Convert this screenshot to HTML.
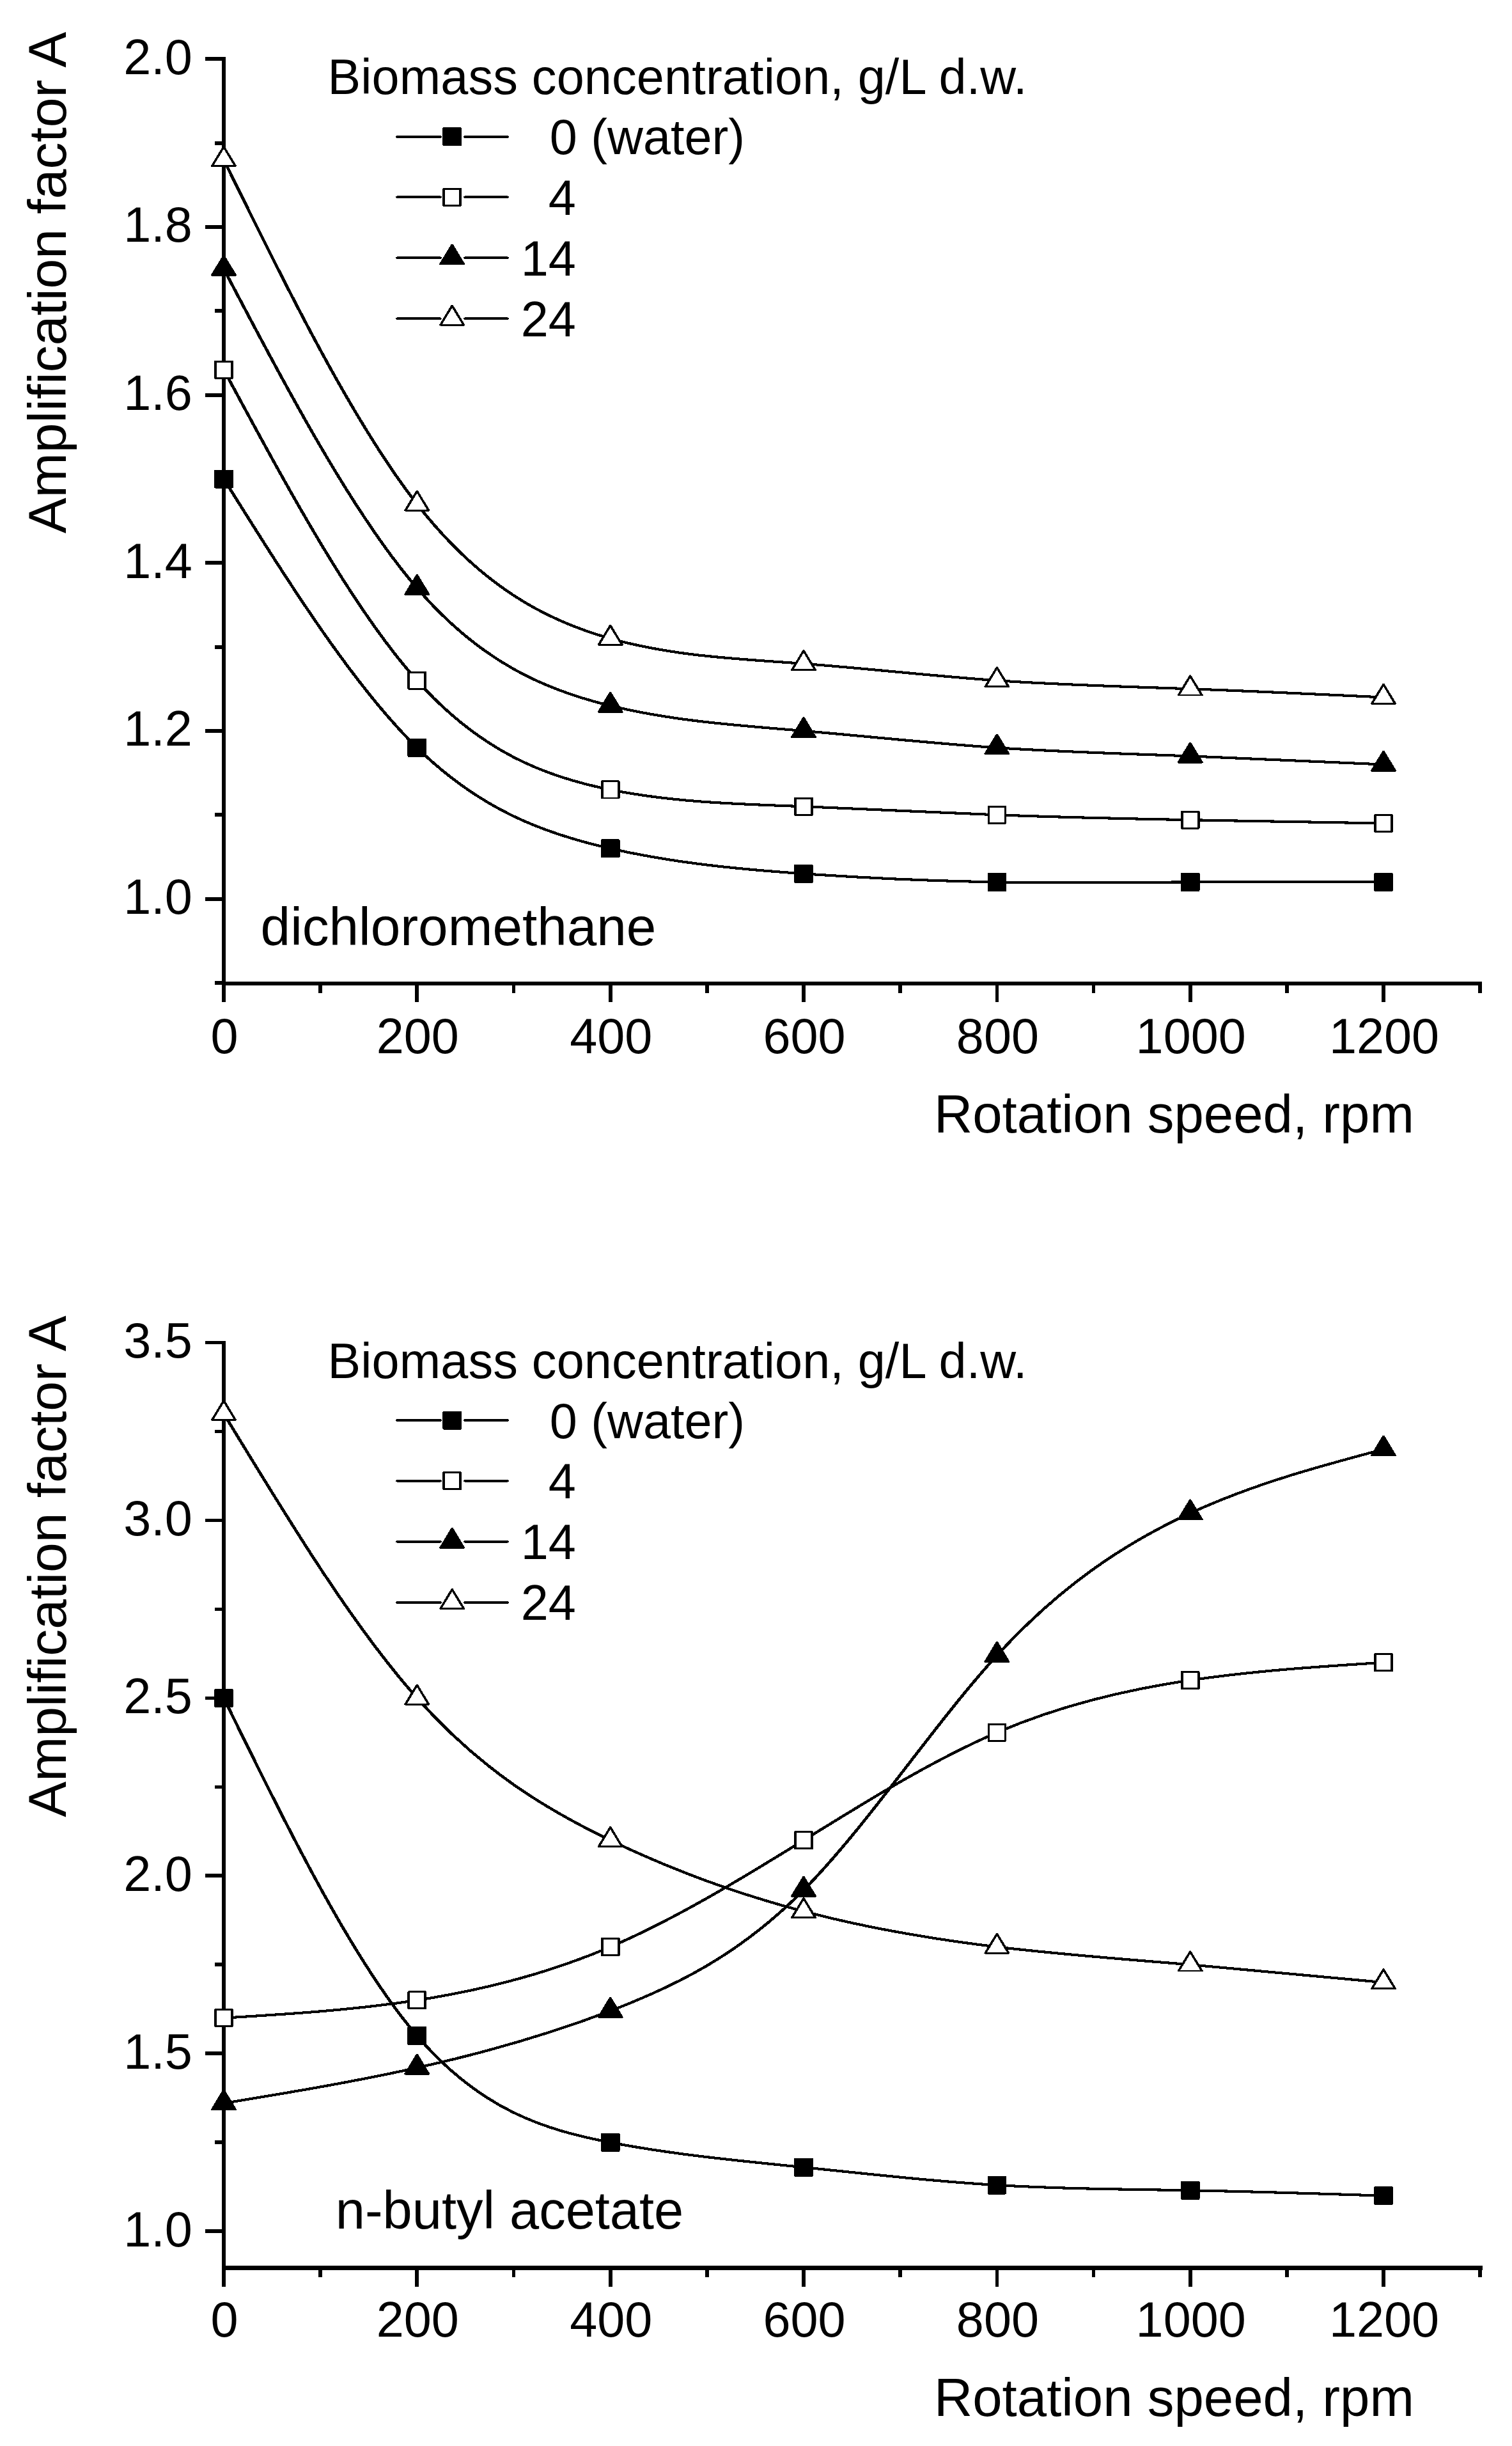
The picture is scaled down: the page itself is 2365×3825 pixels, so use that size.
<!DOCTYPE html>
<html lang="en"><head><meta charset="utf-8"><title>Amplification factor vs rotation speed</title>
<style>
html,body{margin:0;padding:0;background:#fff}
svg{display:block}
text{font-family:"Liberation Sans",Arial,Helvetica,sans-serif;fill:#000}
</style></head><body>
<svg width="2365" height="3825" viewBox="0 0 2365 3825" shape-rendering="crispEdges">
<rect width="2365" height="3825" fill="#fff"/>
<defs>
<path id="sq" d="M-10.15 -13.05H10.15V13.05H-10.15Z" fill="#000" stroke="#000" stroke-width="2.9" stroke-linejoin="round" transform="scale(1.276 1)"/>
<path id="osq" d="M-10.15 -13.05H10.15V13.05H-10.15Z" fill="#fff" stroke="#000" stroke-width="2.9" stroke-linejoin="round" transform="scale(1.276 1)"/>
<path id="tr" d="M0 -20.30L14.26 9.70H-14.26Z" fill="#000" stroke="#000" stroke-width="2.9" stroke-linejoin="round" transform="scale(1.276 1)"/>
<path id="otr" d="M0 -20.30L14.26 9.70H-14.26Z" fill="#fff" stroke="#000" stroke-width="2.9" stroke-linejoin="round" transform="scale(1.276 1)"/>
</defs>
<path d="M350.0 92.2V1538.1" fill="none" stroke="#000" stroke-width="5.8" stroke-linecap="square"/>
<path d="M350.0 1538.1H2315.2" fill="none" stroke="#000" stroke-width="5.8" stroke-linecap="square"/>
<path d="M350.0 1405.7h-28.6M350.0 1143.0h-28.6M350.0 880.3h-28.6M350.0 617.6h-28.6M350.0 354.9h-28.6M350.0 92.2h-28.6M350.0 1537.1h-14.3M350.0 1274.3h-14.3M350.0 1011.6h-14.3M350.0 749.0h-14.3M350.0 486.3h-14.3M350.0 223.6h-14.3M350.0 1538.1v28.7M652.3 1538.1v28.7M954.7 1538.1v28.7M1257.0 1538.1v28.7M1559.4 1538.1v28.7M1861.7 1538.1v28.7M2164.0 1538.1v28.7M501.2 1538.1v14.7M803.5 1538.1v14.7M1105.8 1538.1v14.7M1408.2 1538.1v14.7M1710.5 1538.1v14.7M2012.9 1538.1v14.7M2315.2 1538.1v14.7" fill="none" stroke="#000" stroke-width="5.8"/>
<g font-size="77.4">
<text text-anchor="end" transform="translate(300.9 1429.1)" xml:space="preserve">1.0</text>
<text text-anchor="end" transform="translate(300.9 1166.4)" xml:space="preserve">1.2</text>
<text text-anchor="end" transform="translate(300.9 903.7)" xml:space="preserve">1.4</text>
<text text-anchor="end" transform="translate(300.9 641.0)" xml:space="preserve">1.6</text>
<text text-anchor="end" transform="translate(300.9 378.3)" xml:space="preserve">1.8</text>
<text text-anchor="end" transform="translate(300.9 115.6)" xml:space="preserve">2.0</text>
<text text-anchor="middle" transform="translate(351.0 1647.0)" xml:space="preserve">0</text>
<text text-anchor="middle" transform="translate(653.3 1647.0)" xml:space="preserve">200</text>
<text text-anchor="middle" transform="translate(955.7 1647.0)" xml:space="preserve">400</text>
<text text-anchor="middle" transform="translate(1258.0 1647.0)" xml:space="preserve">600</text>
<text text-anchor="middle" transform="translate(1560.4 1647.0)" xml:space="preserve">800</text>
<text text-anchor="middle" transform="translate(1862.7 1647.0)" xml:space="preserve">1000</text>
<text text-anchor="middle" transform="translate(2165.0 1647.0)" xml:space="preserve">1200</text>
</g>
<text font-size="83.4" x="1461" y="1771.0">Rotation speed, rpm</text>
<text font-size="84.0" text-anchor="middle" transform="translate(103 442.0) rotate(-90)">Amplification factor A</text>
<text font-size="83.7" x="407.6" y="1478.2">dichloromethane</text>
<g fill="none" stroke="#000" stroke-width="4.1" transform="scale(1.20 1)">
<path d="M291.67 749.0C375.65 909.8 459.63 1070.7 543.62 1169.3C627.60 1267.8 711.58 1304.0 795.57 1326.9C879.55 1349.8 963.53 1359.3 1047.52 1366.3C1131.50 1373.3 1215.48 1377.8 1299.47 1379.4C1383.45 1381.1 1467.43 1379.9 1551.42 1379.4C1635.40 1379.0 1719.38 1379.2 1803.37 1379.4"/>
<path d="M291.67 578.2C375.65 765.0 459.63 951.7 543.62 1064.2C627.60 1176.6 711.58 1214.8 795.57 1234.9C879.55 1255.1 963.53 1257.4 1047.52 1261.2C1131.50 1265.1 1215.48 1270.5 1299.47 1274.3C1383.45 1278.2 1467.43 1280.3 1551.42 1282.2C1635.40 1284.1 1719.38 1285.8 1803.37 1287.5"/>
<path d="M291.67 420.6C375.65 611.7 459.63 802.8 543.62 919.7C627.60 1036.6 711.58 1079.1 795.57 1103.6C879.55 1128.1 963.53 1134.4 1047.52 1143.0C1131.50 1151.6 1215.48 1162.5 1299.47 1169.3C1383.45 1176.0 1467.43 1178.7 1551.42 1182.4C1635.40 1186.1 1719.38 1190.8 1803.37 1195.5"/>
<path d="M291.67 249.8C375.65 454.6 459.63 659.5 543.62 788.4C627.60 917.3 711.58 970.2 795.57 998.5C879.55 1026.8 963.53 1030.3 1047.52 1037.9C1131.50 1045.5 1215.48 1057.1 1299.47 1064.2C1383.45 1071.2 1467.43 1073.7 1551.42 1077.3C1635.40 1080.9 1719.38 1085.7 1803.37 1090.5"/>
</g>
<use href="#sq" x="0" y="0" transform="translate(350.0 749.0)"/>
<use href="#sq" x="0" y="0" transform="translate(652.3 1169.3)"/>
<use href="#sq" x="0" y="0" transform="translate(954.7 1326.9)"/>
<use href="#sq" x="0" y="0" transform="translate(1257.0 1366.3)"/>
<use href="#sq" x="0" y="0" transform="translate(1559.4 1379.4)"/>
<use href="#sq" x="0" y="0" transform="translate(1861.7 1379.4)"/>
<use href="#sq" x="0" y="0" transform="translate(2164.0 1379.4)"/>
<use href="#osq" x="0" y="0" transform="translate(350.0 578.2)"/>
<use href="#osq" x="0" y="0" transform="translate(652.3 1064.2)"/>
<use href="#osq" x="0" y="0" transform="translate(954.7 1234.9)"/>
<use href="#osq" x="0" y="0" transform="translate(1257.0 1261.2)"/>
<use href="#osq" x="0" y="0" transform="translate(1559.4 1274.3)"/>
<use href="#osq" x="0" y="0" transform="translate(1861.7 1282.2)"/>
<use href="#osq" x="0" y="0" transform="translate(2164.0 1287.5)"/>
<use href="#tr" x="0" y="0" transform="translate(350.0 420.6)"/>
<use href="#tr" x="0" y="0" transform="translate(652.3 919.7)"/>
<use href="#tr" x="0" y="0" transform="translate(954.7 1103.6)"/>
<use href="#tr" x="0" y="0" transform="translate(1257.0 1143.0)"/>
<use href="#tr" x="0" y="0" transform="translate(1559.4 1169.3)"/>
<use href="#tr" x="0" y="0" transform="translate(1861.7 1182.4)"/>
<use href="#tr" x="0" y="0" transform="translate(2164.0 1195.5)"/>
<use href="#otr" x="0" y="0" transform="translate(350.0 249.8)"/>
<use href="#otr" x="0" y="0" transform="translate(652.3 788.4)"/>
<use href="#otr" x="0" y="0" transform="translate(954.7 998.5)"/>
<use href="#otr" x="0" y="0" transform="translate(1257.0 1037.9)"/>
<use href="#otr" x="0" y="0" transform="translate(1559.4 1064.2)"/>
<use href="#otr" x="0" y="0" transform="translate(1861.7 1077.3)"/>
<use href="#otr" x="0" y="0" transform="translate(2164.0 1090.5)"/>
<g font-size="77.4">
<text x="512.4" y="147.3" textLength="1094.2" lengthAdjust="spacing">Biomass concentration, g/L d.w.</text>
<path d="M518.00 213.8H573.67M606.33 213.8H661.25" stroke="#000" stroke-width="4.1" stroke-linecap="round" transform="scale(1.20 1)"/>
<use href="#sq" x="0" y="0" transform="translate(707.2 213.8)"/>
<path d="M518.00 308.3H573.67M606.33 308.3H661.25" stroke="#000" stroke-width="4.1" stroke-linecap="round" transform="scale(1.20 1)"/>
<use href="#osq" x="0" y="0" transform="translate(707.2 308.3)"/>
<path d="M518.00 403.3H573.67M606.33 403.3H661.25" stroke="#000" stroke-width="4.1" stroke-linecap="round" transform="scale(1.20 1)"/>
<use href="#tr" x="0" y="0" transform="translate(707.2 403.3)"/>
<path d="M518.00 498.4H573.67M606.33 498.4H661.25" stroke="#000" stroke-width="4.1" stroke-linecap="round" transform="scale(1.20 1)"/>
<use href="#otr" x="0" y="0" transform="translate(707.2 498.4)"/>
<text transform="translate(859.8 241.2)" xml:space="preserve">0 (water)</text>
<text transform="translate(857.8 335.7)" xml:space="preserve">4</text>
<text transform="translate(814.8 430.7)" xml:space="preserve">14</text>
<text transform="translate(814.8 525.8)" xml:space="preserve">24</text>
</g>
<path d="M350.0 2099.5V3546.4" fill="none" stroke="#000" stroke-width="5.8" stroke-linecap="square"/>
<path d="M350.0 3546.4H2315.2" fill="none" stroke="#000" stroke-width="6.8" stroke-linecap="square"/>
<path d="M350.0 3489.2h-28.6M350.0 3211.3h-28.6M350.0 2933.3h-28.6M350.0 2655.4h-28.6M350.0 2377.4h-28.6M350.0 2099.5h-28.6M350.0 3350.3h-14.3M350.0 3072.3h-14.3M350.0 2794.4h-14.3M350.0 2516.4h-14.3M350.0 2238.5h-14.3M350.0 3546.4v29.2M652.3 3546.4v29.2M954.7 3546.4v29.2M1257.0 3546.4v29.2M1559.4 3546.4v29.2M1861.7 3546.4v29.2M2164.0 3546.4v29.2M501.2 3546.4v14.7M803.5 3546.4v14.7M1105.8 3546.4v14.7M1408.2 3546.4v14.7M1710.5 3546.4v14.7M2012.9 3546.4v14.7M2315.2 3546.4v14.7" fill="none" stroke="#000" stroke-width="5.8"/>
<g font-size="77.4">
<text text-anchor="end" transform="translate(300.9 3512.7)" xml:space="preserve">1.0</text>
<text text-anchor="end" transform="translate(300.9 3234.7)" xml:space="preserve">1.5</text>
<text text-anchor="end" transform="translate(300.9 2956.8)" xml:space="preserve">2.0</text>
<text text-anchor="end" transform="translate(300.9 2678.8)" xml:space="preserve">2.5</text>
<text text-anchor="end" transform="translate(300.9 2400.8)" xml:space="preserve">3.0</text>
<text text-anchor="end" transform="translate(300.9 2122.9)" xml:space="preserve">3.5</text>
<text text-anchor="middle" transform="translate(351.0 3654.4)" xml:space="preserve">0</text>
<text text-anchor="middle" transform="translate(653.3 3654.4)" xml:space="preserve">200</text>
<text text-anchor="middle" transform="translate(955.7 3654.4)" xml:space="preserve">400</text>
<text text-anchor="middle" transform="translate(1258.0 3654.4)" xml:space="preserve">600</text>
<text text-anchor="middle" transform="translate(1560.4 3654.4)" xml:space="preserve">800</text>
<text text-anchor="middle" transform="translate(1862.7 3654.4)" xml:space="preserve">1000</text>
<text text-anchor="middle" transform="translate(2165.0 3654.4)" xml:space="preserve">1200</text>
</g>
<text font-size="83.4" x="1461" y="3778.4">Rotation speed, rpm</text>
<text font-size="84.0" text-anchor="middle" transform="translate(103 2449.5) rotate(-90)">Amplification factor A</text>
<text font-size="83.0" x="524.8" y="3484.7">n-butyl acetate</text>
<g fill="none" stroke="#000" stroke-width="4.1" transform="scale(1.20 1)">
<path d="M291.67 2655.4C375.65 2860.7 459.63 3066.0 543.62 3183.5C627.60 3301.0 711.58 3330.8 795.57 3350.3C879.55 3369.7 963.53 3378.9 1047.52 3389.2C1131.50 3399.5 1215.48 3411.0 1299.47 3417.0C1383.45 3423.0 1467.43 3423.5 1551.42 3425.3C1635.40 3427.2 1719.38 3430.4 1803.37 3433.7"/>
<path d="M291.67 3155.7C375.65 3149.6 459.63 3143.4 543.62 3127.9C627.60 3112.4 711.58 3087.6 795.57 3044.5C879.55 3001.4 963.53 2940.0 1047.52 2877.8C1131.50 2815.5 1215.48 2752.6 1299.47 2709.3C1383.45 2666.1 1467.43 2642.6 1551.42 2627.6C1635.40 2612.6 1719.38 2606.2 1803.37 2599.8"/>
<path d="M291.67 3289.1C375.65 3272.5 459.63 3255.9 543.62 3233.5C627.60 3211.2 711.58 3183.0 795.57 3144.6C879.55 3106.1 963.53 3057.4 1047.52 2955.6C1131.50 2853.8 1215.48 2699.0 1299.47 2588.7C1383.45 2478.4 1467.43 2412.6 1551.42 2366.3C1635.40 2320.0 1719.38 2293.1 1803.37 2266.3"/>
<path d="M291.67 2210.7C375.65 2376.4 459.63 2542.2 543.62 2655.4C627.60 2768.6 711.58 2829.3 795.57 2877.8C879.55 2926.2 963.53 2962.4 1047.52 2988.9C1131.50 3015.5 1215.48 3032.4 1299.47 3044.5C1383.45 3056.6 1467.43 3063.9 1551.42 3072.3C1635.40 3080.8 1719.38 3090.5 1803.37 3100.1"/>
</g>
<use href="#sq" x="0" y="0" transform="translate(350.0 2655.4)"/>
<use href="#sq" x="0" y="0" transform="translate(652.3 3183.5)"/>
<use href="#sq" x="0" y="0" transform="translate(954.7 3350.3)"/>
<use href="#sq" x="0" y="0" transform="translate(1257.0 3389.2)"/>
<use href="#sq" x="0" y="0" transform="translate(1559.4 3417.0)"/>
<use href="#sq" x="0" y="0" transform="translate(1861.7 3425.3)"/>
<use href="#sq" x="0" y="0" transform="translate(2164.0 3433.7)"/>
<use href="#osq" x="0" y="0" transform="translate(350.0 3155.7)"/>
<use href="#osq" x="0" y="0" transform="translate(652.3 3127.9)"/>
<use href="#osq" x="0" y="0" transform="translate(954.7 3044.5)"/>
<use href="#osq" x="0" y="0" transform="translate(1257.0 2877.8)"/>
<use href="#osq" x="0" y="0" transform="translate(1559.4 2709.3)"/>
<use href="#osq" x="0" y="0" transform="translate(1861.7 2627.6)"/>
<use href="#osq" x="0" y="0" transform="translate(2164.0 2599.8)"/>
<use href="#tr" x="0" y="0" transform="translate(350.0 3289.1)"/>
<use href="#tr" x="0" y="0" transform="translate(652.3 3233.5)"/>
<use href="#tr" x="0" y="0" transform="translate(954.7 3144.6)"/>
<use href="#tr" x="0" y="0" transform="translate(1257.0 2955.6)"/>
<use href="#tr" x="0" y="0" transform="translate(1559.4 2588.7)"/>
<use href="#tr" x="0" y="0" transform="translate(1861.7 2366.3)"/>
<use href="#tr" x="0" y="0" transform="translate(2164.0 2266.3)"/>
<use href="#otr" x="0" y="0" transform="translate(350.0 2210.7)"/>
<use href="#otr" x="0" y="0" transform="translate(652.3 2655.4)"/>
<use href="#otr" x="0" y="0" transform="translate(954.7 2877.8)"/>
<use href="#otr" x="0" y="0" transform="translate(1257.0 2988.9)"/>
<use href="#otr" x="0" y="0" transform="translate(1559.4 3044.5)"/>
<use href="#otr" x="0" y="0" transform="translate(1861.7 3072.3)"/>
<use href="#otr" x="0" y="0" transform="translate(2164.0 3100.1)"/>
<g font-size="77.4">
<text x="512.4" y="2154.7" textLength="1094.2" lengthAdjust="spacing">Biomass concentration, g/L d.w.</text>
<path d="M518.00 2221.2H573.67M606.33 2221.2H661.25" stroke="#000" stroke-width="4.1" stroke-linecap="round" transform="scale(1.20 1)"/>
<use href="#sq" x="0" y="0" transform="translate(707.2 2221.2)"/>
<path d="M518.00 2315.7H573.67M606.33 2315.7H661.25" stroke="#000" stroke-width="4.1" stroke-linecap="round" transform="scale(1.20 1)"/>
<use href="#osq" x="0" y="0" transform="translate(707.2 2315.7)"/>
<path d="M518.00 2410.7H573.67M606.33 2410.7H661.25" stroke="#000" stroke-width="4.1" stroke-linecap="round" transform="scale(1.20 1)"/>
<use href="#tr" x="0" y="0" transform="translate(707.2 2410.7)"/>
<path d="M518.00 2505.8H573.67M606.33 2505.8H661.25" stroke="#000" stroke-width="4.1" stroke-linecap="round" transform="scale(1.20 1)"/>
<use href="#otr" x="0" y="0" transform="translate(707.2 2505.8)"/>
<text transform="translate(859.8 2248.6)" xml:space="preserve">0 (water)</text>
<text transform="translate(857.8 2343.1)" xml:space="preserve">4</text>
<text transform="translate(814.8 2438.1)" xml:space="preserve">14</text>
<text transform="translate(814.8 2533.2)" xml:space="preserve">24</text>
</g>
</svg>
</body></html>
